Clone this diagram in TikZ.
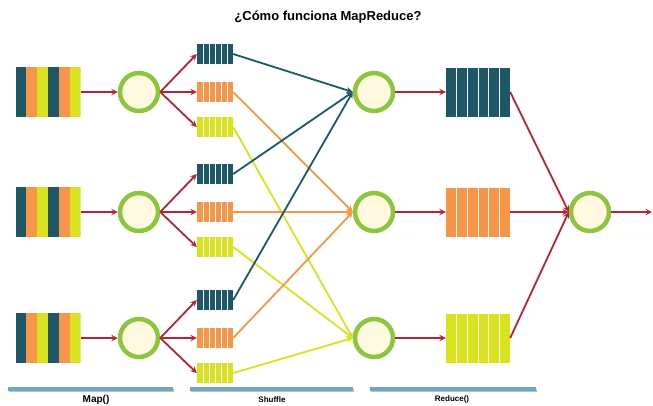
\documentclass[tikz,border=0pt]{standalone}
\usepackage{fontspec}
\setmainfont{Liberation Sans}
\usetikzlibrary{arrows,positioning,calc}

\definecolor{mrteal}{RGB}{30,88,104}
\definecolor{mrorange}{RGB}{247,150,72}
\definecolor{mryellow}{RGB}{216,226,30}
\definecolor{mrgreen}{RGB}{140,198,63}
\definecolor{mrcream}{RGB}{255,249,224}
\definecolor{mrred}{RGB}{180,36,52}
\definecolor{mrbar}{RGB}{108,166,194}

\tikzset{
  worker/.style={circle,draw=mrgreen,line width=4.5pt,fill=mrcream,minimum size=38pt,inner sep=0pt},
  split/.style={minimum width=65pt,minimum height=50pt,inner sep=0pt,
    path picture={
      \foreach \c [count=\k] in {mrteal,mrorange,mryellow,mrteal,mrorange,mryellow}{
        \pgfmathsetmacro\lo{(\k-1)/6}
        \pgfmathsetmacro\hi{\k/6}
        \fill[\c] ($(path picture bounding box.south west)!\lo!(path picture bounding box.south east)$)
          rectangle ($(path picture bounding box.north west)!\hi!(path picture bounding box.north east)$);
      }}},
  queue/.style={fill=#1,inner sep=0pt,
    path picture={
      \foreach \k in {1,...,5}
        \draw[white,line width=1pt] ($(path picture bounding box.south west)!\k/6!(path picture bounding box.south east)$)
          -- ($(path picture bounding box.north west)!\k/6!(path picture bounding box.north east)$);
    }},
  small/.style={queue=#1,minimum width=36pt,minimum height=20pt},
  big/.style={queue=#1,minimum width=64pt,minimum height=49pt},
  redarrow/.style={-stealth,mrred,line width=1.8pt},
  shuffle/.style={-stealth,#1,line width=1.8pt},
  bar/.style={mrbar,line width=3.5pt},
  label/.style={font=\bfseries\fontsize{8}{9}\selectfont}
}

\begin{document}
\begin{tikzpicture}[x=1pt,y=-1pt]
  \useasboundingbox (0,0) rectangle (653,405);

  \node[font=\bfseries\fontsize{13}{15}\selectfont] (title) at (328,17) {¿Cómo funciona MapReduce?};

  % map side
  \foreach \r/\y in {1/92,2/212,3/338}{
    \node[split] (in\r) at (48,\y) {};
    \node[worker] (map\r) at (139,\y) {};
    \foreach \c/\col/\dy in {t/mrteal/-38,o/mrorange/0,y/mryellow/35}
      \node[small=\col] (s\r\c) at (215,{\y+\dy}) {};
    \draw[redarrow] (in\r) -- (map\r);
    \foreach \c in {t,o,y}
      \draw[redarrow] (map\r.east) -- (s\r\c.west);
  }

  % reduce side
  \foreach \r/\y/\col in {1/92/mrteal,2/212/mrorange,3/338/mryellow}{
    \node[worker] (red\r) at (374,\y) {};
    \node[big=\col] (out\r) at (478,\y) {};
    \draw[redarrow] (red\r) -- (out\r);
  }
  \node[worker] (fin) at (590,212) {};
  \coordinate (end) at (652,212);

  % shuffle
  \foreach \r in {1,2,3}{
    \draw[shuffle=mrteal] (s\r t.east) -- (red1.west);
    \draw[shuffle=mrorange] (s\r o.east) -- (red2.west);
    \draw[shuffle=mryellow] (s\r y.east) -- (red3.west);
  }

  \foreach \r in {1,2,3}
    \draw[redarrow] (out\r.east) -- (fin.west);
  \draw[redarrow] (fin) -- (end);

  % phases
  \draw[gray!50,line width=3.5pt] (9,390.5) -- (174,390.5);
  \draw[gray!50,line width=3.5pt] (191,390.5) -- (354,390.5);
  \draw[gray!50,line width=3.5pt] (371,390.5) -- (537,390.5);
  \draw[bar] (8,389) -- (173,389);
  \draw[bar] (190,389) -- (353,389);
  \draw[bar] (370,389) -- (536,389);
  \node[label,font=\bfseries\fontsize{10}{11}\selectfont] (mapl) at (96,399.5) {Map()};
  \node[label] (shufl) at (272,399.5) {Shuffle};
  \node[label] (redl) at (452,399.5) {Reduce()};
\end{tikzpicture}
\end{document}
